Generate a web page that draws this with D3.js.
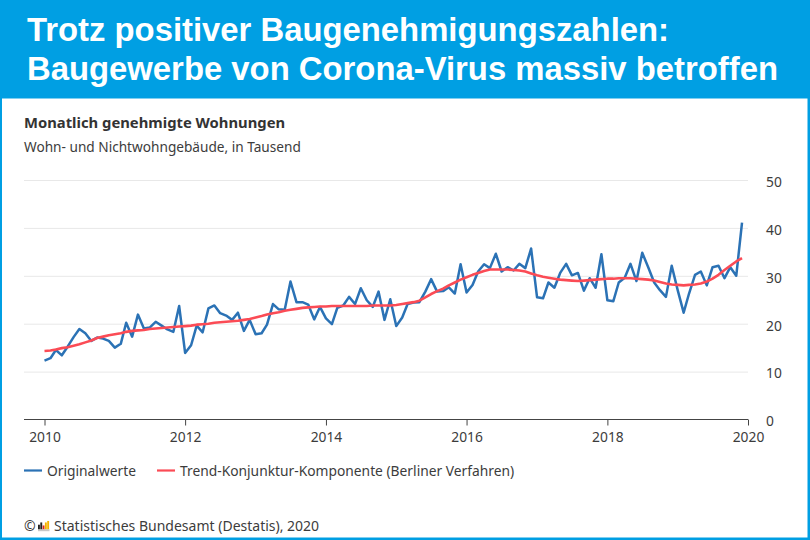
<!DOCTYPE html>
<html>
<head>
<meta charset="utf-8">
<script src="https://cdn.jsdelivr.net/npm/d3@7"></script>
<style>
  html, body { margin: 0; padding: 0; background: #fff; }
  svg { display: block; }
  text { font-family: "Noto Sans", sans-serif; fill: #3c3c3c; }
</style>
</head>
<body>
<div id="chart"></div>
<script>
// Monthly values Jan 2010 - Dec 2019
const originalwerte = [
  12.3, 12.8, 14.5, 13.4, 15.2, 17.2, 18.9, 18.0, 16.4, 17.1, 16.9, 16.4,
  15.0, 15.8, 20.2, 17.3, 21.9, 19.0, 19.2, 20.4, 19.6, 18.8, 18.3, 23.7,
  13.9, 15.5, 19.6, 18.2, 23.2, 23.8, 22.2, 21.7, 20.8, 22.3, 18.5, 20.8,
  17.8, 18.0, 19.8, 24.1, 23.0, 22.9, 28.8, 24.5, 24.5, 24.0, 20.9, 23.5,
  21.1, 19.9, 23.3, 23.8, 25.6, 24.1, 27.4, 24.9, 23.5, 26.7, 20.8, 25.1,
  19.5, 21.3, 24.1, 24.4, 24.5, 26.7, 29.3, 26.7, 26.8, 27.6, 26.3, 32.4,
  26.5, 28.1, 30.9, 32.4, 31.6, 34.6, 30.9, 31.8, 31.1, 32.5, 31.6, 35.7,
  25.5, 25.3, 28.6, 27.5, 30.6, 32.5, 30.1, 30.6, 26.9, 29.5, 27.5, 34.5,
  24.9, 24.7, 28.6, 29.6, 32.5, 28.9, 34.8, 31.8, 28.6, 27.0, 25.6, 32.1,
  27.0, 22.3, 26.3, 30.2, 30.9, 28.0, 31.8, 32.1, 29.5, 31.8, 30.0, 41.1
];
const trend = [
  14.3, 14.4, 14.6, 14.9, 15.1, 15.4, 15.7, 16.1, 16.5, 17.0, 17.3, 17.6,
  17.8, 18.0, 18.3, 18.5, 18.6, 18.7, 18.9, 19.0, 19.1, 19.2, 19.3, 19.4,
  19.5, 19.6, 19.8, 19.9, 20.0, 20.2, 20.3, 20.4, 20.5, 20.6, 20.8, 21.0,
  21.3, 21.6, 21.9, 22.2, 22.4, 22.7, 22.9, 23.1, 23.3, 23.4, 23.5, 23.6,
  23.6, 23.7, 23.7, 23.7, 23.7, 23.7, 23.7, 23.7, 23.8, 23.8, 23.8, 23.8,
  23.9, 24.1, 24.3, 24.5, 24.8, 25.5, 26.2, 26.8, 27.3, 28.0, 28.6, 29.2,
  29.7, 30.2, 30.6, 31.0, 31.3, 31.3, 31.3, 31.3, 31.2, 31.1, 30.9, 30.5,
  30.1, 29.8, 29.6, 29.4, 29.2, 29.1, 29.0, 28.9, 29.0, 29.1, 29.2, 29.3,
  29.4, 29.4, 29.5, 29.5, 29.5, 29.4, 29.3, 29.2, 29.0, 28.7, 28.4, 28.2,
  28.1, 28.0, 28.1, 28.2, 28.4, 28.8, 29.4, 30.2, 31.2, 32.1, 33.0, 33.7
];
const yTicks = [0, 10, 20, 30, 40, 50];
const xTickYears = [2010, 2012, 2014, 2016, 2018, 2020];
const titleLines = ["Trotz positiver Baugenehmigungszahlen:", "Baugewerbe von Corona-Virus massiv betroffen"];
const legendItems = [
  { label: "Originalwerte", color: "#2b72b5", x: 24 },
  { label: "Trend-Konjunktur-Komponente (Berliner Verfahren)", color: "#fb4b55", x: 157 }
];
const logoBars = [6, 9, 5, 9, 11];

const width = 810, height = 540;
const dates = originalwerte.map((d, i) => new Date(Date.UTC(2010, i, 1)));

const svg = d3.select("#chart").append("svg")
    .attr("width", width)
    .attr("height", height);

// Frame and header
svg.append("rect").attr("width", width).attr("height", height).attr("fill", "#009fe3");
svg.append("rect").attr("x", 2).attr("y", 98.5).attr("width", 805.5).attr("height", 439).attr("fill", "#fff");

svg.selectAll(".headline")
    .data(titleLines)
    .join("text")
    .attr("class", "headline")
    .attr("x", 27)
    .attr("y", (d, i) => 41 + i * 39)
    .style("font-family", "'Liberation Sans', Arial, sans-serif")
    .style("font-weight", "bold")
    .style("font-size", "32.85px")
    .style("fill", "#fff")
    .text(d => d);

svg.append("text")
    .attr("x", 24).attr("y", 128)
    .style("font-weight", "bold").style("font-size", "14.8px").style("fill", "#333")
    .text("Monatlich genehmigte Wohnungen");
svg.append("text")
    .attr("x", 24).attr("y", 152)
    .style("font-size", "13.65px")
    .text("Wohn- und Nichtwohngebäude, in Tausend");

// Scales
const x = d3.scaleUtc()
    .domain([new Date(Date.UTC(2010, 0, 1)), new Date(Date.UTC(2020, 0, 1))])
    .range([44.5, 748]);
const y = d3.scaleLinear().domain([0, 50]).range([419.5, 180]);

// Y axis with grid lines
const yAxis = svg.append("g")
    .attr("transform", "translate(748,0)")
    .call(d3.axisRight(y).tickValues(yTicks).tickSize(0).tickPadding(18));
yAxis.select(".domain").remove();
yAxis.selectAll("text")
    .attr("dy", "0.46em")
    .style("font-size", "13.8px")
    .style("font-family", "'Noto Sans', sans-serif");
yAxis.selectAll(".tick").filter(d => d !== 0).append("line")
    .attr("x1", 24 - 748).attr("x2", 0)
    .attr("stroke", "#e8e8e8").attr("stroke-width", 1);

// X axis
const xAxis = svg.append("g")
    .attr("transform", "translate(0,419.5)")
    .call(d3.axisBottom(x)
        .tickValues(xTickYears.map(yr => new Date(Date.UTC(yr, 0, 1))))
        .tickFormat(d3.utcFormat("%Y"))
        .tickSize(6).tickPadding(7));
xAxis.select(".domain").remove();
xAxis.selectAll("line").attr("stroke", "#444");
xAxis.selectAll("text").style("font-size", "13.8px").style("font-family", "'Noto Sans', sans-serif");
svg.append("line")
    .attr("x1", 24).attr("x2", 748).attr("y1", 419.5).attr("y2", 419.5)
    .attr("stroke", "#444").attr("stroke-width", 1.2);

// Lines
const line = d3.line().x((d, i) => x(dates[i])).y(d => y(d));
svg.append("path").datum(originalwerte)
    .attr("fill", "none").attr("stroke", legendItems[0].color)
    .attr("stroke-width", 2.5).attr("stroke-linejoin", "round")
    .attr("d", line);
svg.append("path").datum(trend)
    .attr("fill", "none").attr("stroke", legendItems[1].color)
    .attr("stroke-width", 2.6).attr("stroke-linejoin", "round")
    .attr("d", line);

// Legend
const legend = svg.selectAll(".legend-item").data(legendItems).join("g")
    .attr("class", "legend-item")
    .attr("transform", d => `translate(${d.x},470.5)`);
legend.append("line").attr("x1", 0).attr("x2", 18)
    .attr("stroke", d => d.color).attr("stroke-width", 2.2);
legend.append("text").attr("x", 23).attr("y", 5)
    .style("font-size", "13.8px")
    .text(d => d.label);

// Source line with small logo
svg.append("text").attr("x", 24).attr("y", 531)
    .style("font-size", "14px")
    .text("©");
const logo = svg.append("g").attr("transform", "translate(38,521)");
logo.append("rect").attr("x", 0).attr("y", 8.2).attr("width", 11.5).attr("height", 2).attr("fill", "#c8c8c8");
logo.selectAll(".logo-bar").data(logoBars).join("rect")
    .attr("class", "logo-bar")
    .attr("x", (d, i) => i * 2.3)
    .attr("y", d => 8.2 - d * 0.75)
    .attr("width", 1.9)
    .attr("height", d => d * 0.75)
    .attr("fill", (d, i) => ["#222", "#222", "#d9281e", "#f5b400", "#f5b400"][i]);
svg.append("text").attr("x", 54).attr("y", 531)
    .style("font-size", "14px")
    .text("Statistisches Bundesamt (Destatis), 2020");
</script>
</body>
</html>
